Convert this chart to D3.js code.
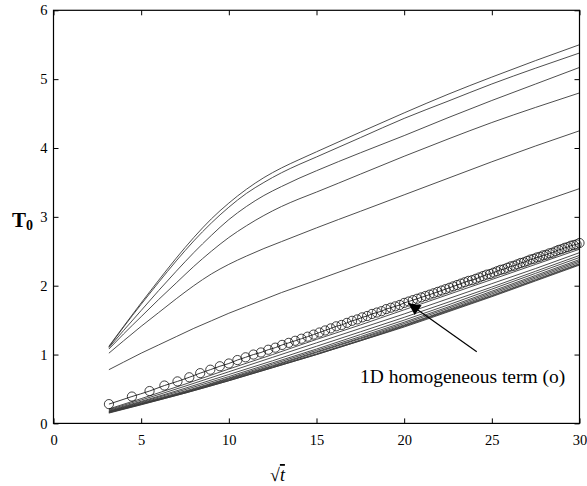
<!DOCTYPE html>
<html>
<head>
<meta charset="utf-8">
<script src="https://cdn.jsdelivr.net/npm/d3@7"></script>
<style>
body { margin: 0; background: #fff; }
text { font-family: "Liberation Serif", "Times New Roman", serif; fill: #000; }
</style>
</head>
<body>
<svg id="chart" width="587" height="486"></svg>
<script>
// tick labels
var xTicks = [0, 5, 10, 15, 20, 25, 30];
var yTicks = [0, 1, 2, 3, 4, 5, 6];

var upperX = [3.16, 4, 5, 6, 7, 8, 9, 10, 11, 12, 13, 14, 15, 17.5, 20, 22.5, 25, 27.5, 30];

// upper family of curves
var upperLines = [
  [1.12, 1.41, 1.75, 2.08, 2.40, 2.70, 2.97, 3.20, 3.40, 3.57, 3.71, 3.83, 3.945, 4.23, 4.51, 4.78, 5.03, 5.27, 5.50],
  [1.11, 1.40, 1.73, 2.05, 2.36, 2.65, 2.91, 3.14, 3.34, 3.50, 3.64, 3.76, 3.87, 4.15, 4.43, 4.68, 4.93, 5.16, 5.38],
  [1.10, 1.35, 1.64, 1.93, 2.21, 2.48, 2.73, 2.96, 3.15, 3.31, 3.44, 3.56, 3.67, 3.93, 4.18, 4.44, 4.69, 4.93, 5.17],
  [1.08, 1.30, 1.55, 1.80, 2.04, 2.28, 2.50, 2.70, 2.87, 3.02, 3.15, 3.26, 3.36, 3.62, 3.88, 4.13, 4.37, 4.59, 4.80],
  [1.02, 1.20, 1.41, 1.61, 1.81, 2.00, 2.17, 2.31, 2.43, 2.54, 2.64, 2.74, 2.84, 3.08, 3.32, 3.56, 3.80, 4.03, 4.25],
  [0.78, 0.89, 1.02, 1.14, 1.26, 1.38, 1.49, 1.60, 1.70, 1.80, 1.90, 1.99, 2.08, 2.31, 2.53, 2.75, 2.97, 3.19, 3.41]
];

// sqrt(t) positions for the lower bundle
var lowerX = [3.16, 5, 7.5, 10, 12.5, 15, 17.5, 20, 22.5, 25, 27.5, 30];

// lower bundle of curves
var lowerLines = [
  [0.21, 0.36, 0.57, 0.79, 1.00, 1.22, 1.43, 1.65, 1.87, 2.09, 2.31, 2.53],
  [0.20, 0.34, 0.54, 0.75, 0.96, 1.17, 1.38, 1.59, 1.81, 2.03, 2.25, 2.48],
  [0.19, 0.32, 0.51, 0.71, 0.91, 1.12, 1.33, 1.54, 1.76, 1.98, 2.21, 2.44],
  [0.18, 0.31, 0.49, 0.68, 0.88, 1.08, 1.29, 1.50, 1.72, 1.95, 2.18, 2.41],
  [0.175, 0.30, 0.47, 0.66, 0.86, 1.06, 1.26, 1.47, 1.69, 1.92, 2.15, 2.38],
  [0.17, 0.29, 0.46, 0.65, 0.84, 1.04, 1.24, 1.45, 1.67, 1.90, 2.13, 2.36],
  [0.165, 0.285, 0.45, 0.64, 0.83, 1.03, 1.23, 1.43, 1.65, 1.88, 2.11, 2.34],
  [0.16, 0.28, 0.45, 0.63, 0.82, 1.01, 1.21, 1.42, 1.64, 1.86, 2.09, 2.32],
  [0.155, 0.275, 0.44, 0.62, 0.81, 1.00, 1.20, 1.41, 1.63, 1.85, 2.08, 2.31],
  [0.15, 0.27, 0.44, 0.62, 0.81, 1.00, 1.20, 1.40, 1.62, 1.84, 2.07, 2.30]
];

// 1D homogeneous term, one value per t = 10, 20, ..., 900
var tSteps = d3.range(10, 901, 10);
var homogeneous = [
  0.28, 0.39, 0.47, 0.55, 0.61, 0.67, 0.73, 0.78, 0.83, 0.87,
  0.92, 0.96, 1.00, 1.03, 1.07, 1.10, 1.14, 1.17, 1.20, 1.23,
  1.26, 1.29, 1.32, 1.35, 1.38, 1.41, 1.43, 1.46, 1.49, 1.51,
  1.54, 1.56, 1.59, 1.61, 1.63, 1.66, 1.68, 1.70, 1.72, 1.75,
  1.77, 1.79, 1.81, 1.83, 1.85, 1.87, 1.89, 1.91, 1.93, 1.95,
  1.97, 1.99, 2.01, 2.03, 2.05, 2.07, 2.08, 2.10, 2.12, 2.14,
  2.16, 2.17, 2.19, 2.21, 2.23, 2.24, 2.26, 2.28, 2.29, 2.31,
  2.33, 2.34, 2.36, 2.38, 2.39, 2.41, 2.42, 2.44, 2.45, 2.47,
  2.48, 2.50, 2.52, 2.53, 2.55, 2.56, 2.58, 2.59, 2.60, 2.62
];

// annotation: label and arrow tail/tip, in data units
var noteText = "1D homogeneous term (o)";
var arrowTail = [24.14, 1.04];
var arrowTip = [20.24, 1.745];

(function() {
var svg = d3.select("#chart");
var mLeft = 53.5, mRight = 579.5, mTop = 10.3, mBottom = 423.4;

var x = d3.scaleLinear().domain([0, 30]).range([mLeft, mRight]);
var y = d3.scaleLinear().domain([0, 6]).range([mBottom, mTop]);

var line = d3.line()
  .x(function(d) { return x(d[0]); })
  .y(function(d) { return y(d[1]); })
  .curve(d3.curveMonotoneX);

var curves = svg.append("g");
var drawSet = function(xs, sets) {
  sets.forEach(function(vals) {
    curves.append("path")
      .attr("d", line(xs.map(function(v, i) { return [v, vals[i]]; })))
      .attr("fill", "none")
      .attr("stroke", "#3a3a3a")
      .attr("stroke-width", 0.9);
  });
};
drawSet(upperX, upperLines);
drawSet(lowerX, lowerLines);

var homoPts = tSteps.map(function(t, i) { return [Math.sqrt(t), homogeneous[i]]; });
curves.append("path")
  .attr("d", line(homoPts))
  .attr("fill", "none")
  .attr("stroke", "#222")
  .attr("stroke-width", 0.9);
curves.selectAll("circle.h").data(homoPts).enter().append("circle")
  .attr("class", "h")
  .attr("cx", function(d) { return x(d[0]); })
  .attr("cy", function(d) { return y(d[1]); })
  .attr("r", 4.6)
  .attr("fill", "none")
  .attr("stroke", "#111")
  .attr("stroke-width", 0.8);

// axes with inward ticks on all four sides
var axisFont = function(g) {
  g.attr("font-size", "14.5px").attr("font-family", "Liberation Serif, serif");
  g.select(".domain").remove();
  g.selectAll("line").attr("stroke", "#000");
  g.selectAll("text").style("font-family", "'Liberation Serif', serif").style("font-size", "14.5px").attr("fill", "#000");
};
var fmt = d3.format("d");
svg.append("g").attr("transform", "translate(0," + mBottom + ")")
  .call(d3.axisBottom(x).tickValues(xTicks).tickFormat(fmt).tickSizeInner(-5).tickSizeOuter(0).tickPadding(11))
  .call(axisFont);
svg.append("g").attr("transform", "translate(0," + mTop + ")")
  .call(d3.axisTop(x).tickValues(xTicks).tickSizeInner(-5).tickSizeOuter(0).tickFormat(""))
  .call(axisFont);
svg.append("g").attr("transform", "translate(" + mLeft + ",0)")
  .call(d3.axisLeft(y).tickValues(yTicks).tickFormat(fmt).tickSizeInner(-5).tickSizeOuter(0).tickPadding(6))
  .call(axisFont);
svg.append("g").attr("transform", "translate(" + mRight + ",0)")
  .call(d3.axisRight(y).tickValues(yTicks).tickSizeInner(-5).tickSizeOuter(0).tickFormat(""))
  .call(axisFont);

svg.append("rect")
  .attr("x", mLeft).attr("y", mTop)
  .attr("width", mRight - mLeft).attr("height", mBottom - mTop)
  .attr("fill", "none").attr("stroke", "#000").attr("stroke-width", 1.2);

// axis labels
var yl = svg.append("text").attr("x", 12).attr("y", 227)
  .style("font-size", "21px").style("font-weight", "bold");
yl.append("tspan").text("T");
yl.append("tspan").attr("dy", 3).style("font-size", "14px").text("0");

var xl = svg.append("text").attr("x", 270).attr("y", 481).style("font-size", "18px");
xl.append("tspan").text("\u221A");
xl.append("tspan").style("font-style", "italic").style("text-decoration", "overline").text("t");

// annotation
svg.append("defs").append("marker")
  .attr("id", "head").attr("viewBox", "0 0 10 10")
  .attr("refX", 10).attr("refY", 5)
  .attr("markerWidth", 17).attr("markerHeight", 12)
  .attr("markerUnits", "userSpaceOnUse")
  .attr("orient", "auto")
  .append("path").attr("d", "M0,0 L10,5 L0,10 Z").attr("fill", "#000");

svg.append("line")
  .attr("x1", x(arrowTail[0])).attr("y1", y(arrowTail[1]))
  .attr("x2", x(arrowTip[0])).attr("y2", y(arrowTip[1]))
  .attr("stroke", "#000").attr("stroke-width", 1.2)
  .attr("marker-end", "url(#head)");

svg.append("text").attr("x", 360).attr("y", 383)
  .style("font-size", "19.5px").text(noteText);
})();
</script>
</body>
</html>
